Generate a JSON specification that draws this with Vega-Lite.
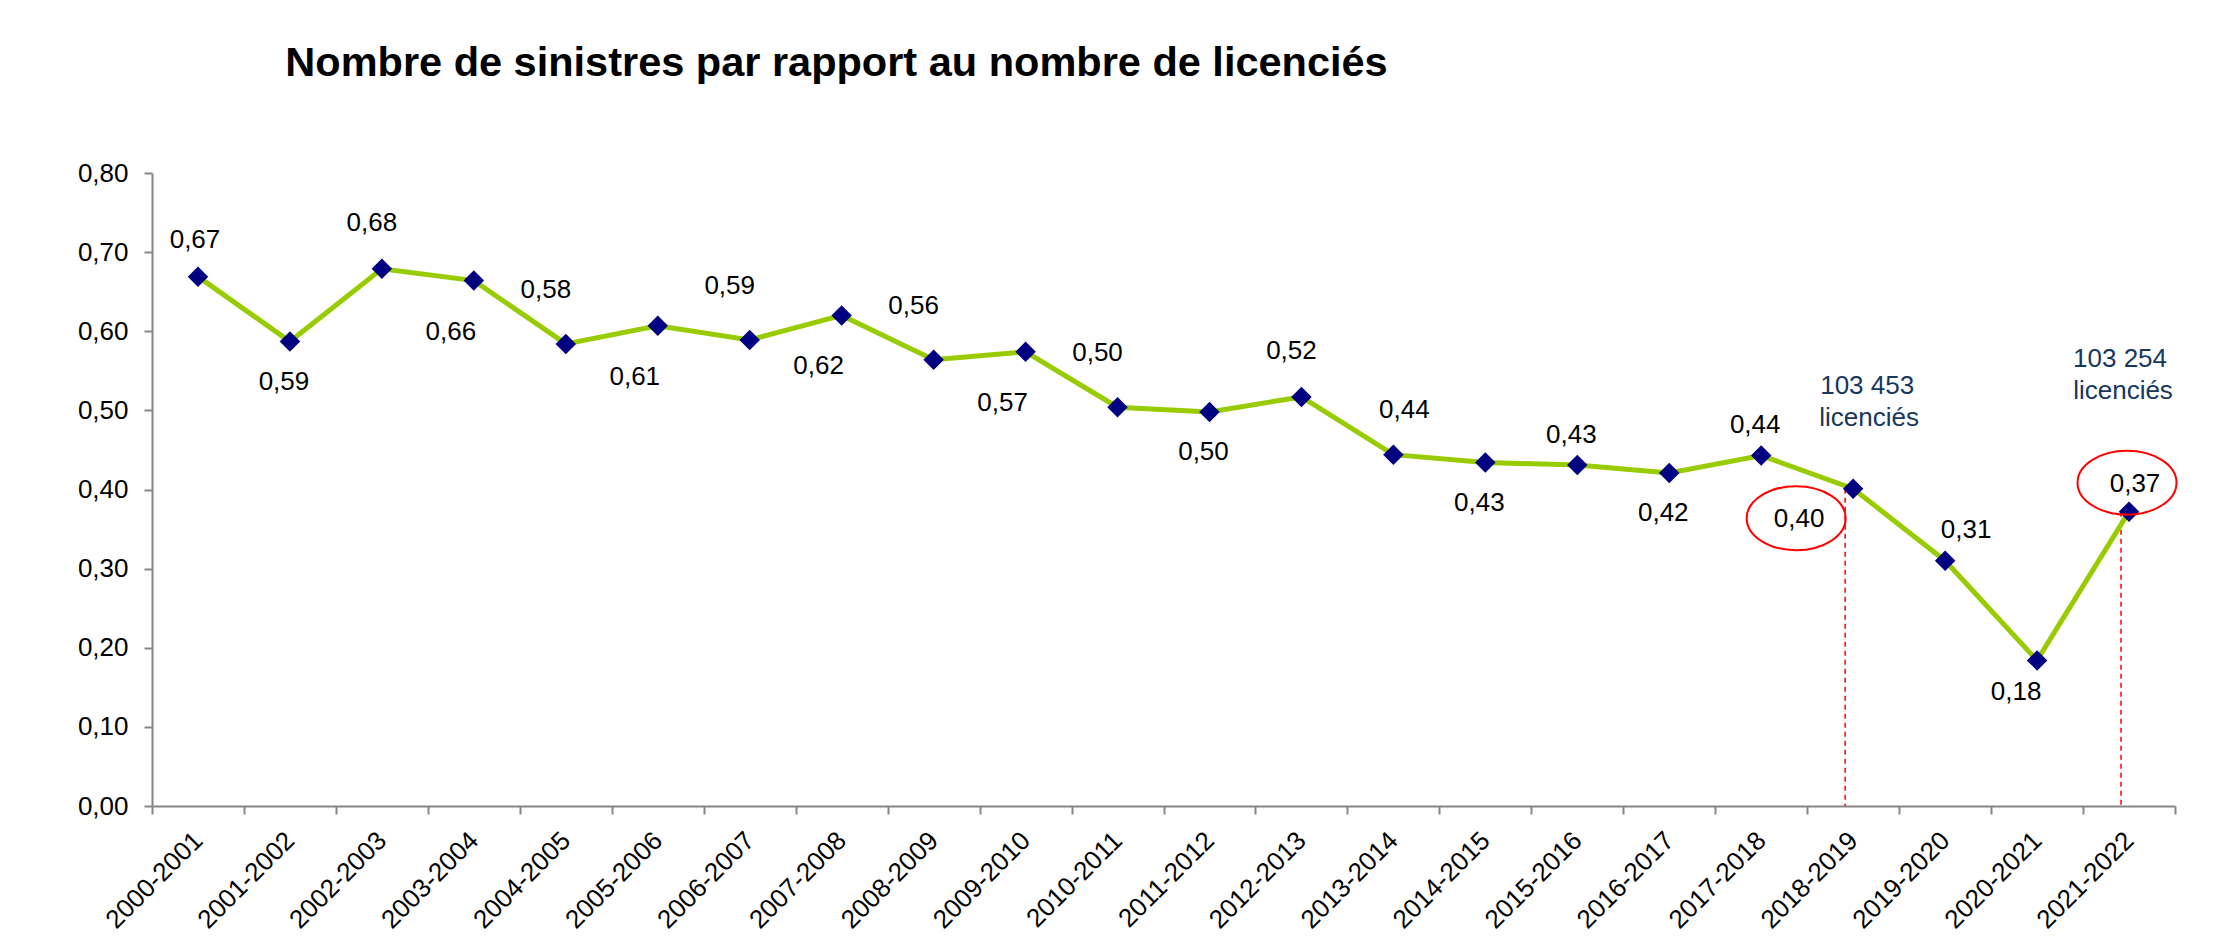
{
  "$schema": "https://vega.github.io/schema/vega-lite/v6.json",
  "width": 2023,
  "height": 633,
  "autosize": {"type": "none"},
  "padding": {"left": 152, "top": 173, "right": 45, "bottom": 138},
  "background": "white",
  "title": {
    "text": "Nombre de sinistres par rapport au nombre de licenciés",
    "font": "Liberation Sans",
    "fontSize": 41.5,
    "fontWeight": "bold",
    "color": "black",
    "anchor": "middle",
    "dx": -327,
    "offset": 76
  },
  "config": {
    "locale": {
      "number": {"decimal": ",", "thousands": " ", "grouping": [3], "currency": ["", " €"]}
    },
    "view": {"stroke": null},
    "text": {"font": "Liberation Sans", "fontSize": 26},
    "axis": {
      "grid": false,
      "title": null,
      "labelFont": "Liberation Sans",
      "labelFontSize": 26,
      "labelColor": "black",
      "domainColor": "#868686",
      "domainWidth": 2,
      "tickColor": "#868686",
      "tickWidth": 2,
      "tickSize": 8
    }
  },
  "data": {
    "values": [
      {"saison": "2000-2001", "valeur": 0.669},
      {"saison": "2001-2002", "valeur": 0.587},
      {"saison": "2002-2003", "valeur": 0.679},
      {"saison": "2003-2004", "valeur": 0.664},
      {"saison": "2004-2005", "valeur": 0.584},
      {"saison": "2005-2006", "valeur": 0.607},
      {"saison": "2006-2007", "valeur": 0.589},
      {"saison": "2007-2008", "valeur": 0.62},
      {"saison": "2008-2009", "valeur": 0.564},
      {"saison": "2009-2010", "valeur": 0.574},
      {"saison": "2010-2011", "valeur": 0.504},
      {"saison": "2011-2012", "valeur": 0.498},
      {"saison": "2012-2013", "valeur": 0.517},
      {"saison": "2013-2014", "valeur": 0.444},
      {"saison": "2014-2015", "valeur": 0.434},
      {"saison": "2015-2016", "valeur": 0.431},
      {"saison": "2016-2017", "valeur": 0.421},
      {"saison": "2017-2018", "valeur": 0.443},
      {"saison": "2018-2019", "valeur": 0.401, "licencies": 103453},
      {"saison": "2019-2020", "valeur": 0.31},
      {"saison": "2020-2021", "valeur": 0.184},
      {"saison": "2021-2022", "valeur": 0.372, "licencies": 103254}
    ]
  },
  "encoding": {
    "x": {
      "field": "saison",
      "type": "ordinal",
      "sort": null,
      "bandPosition": 0.5,
      "scale": {
        "type": "band",
        "paddingInner": 0,
        "paddingOuter": 0,
        "domain": ["2000-2001", "2001-2002", "2002-2003", "2003-2004", "2004-2005", "2005-2006", "2006-2007", "2007-2008", "2008-2009", "2009-2010", "2010-2011", "2011-2012", "2012-2013", "2013-2014", "2014-2015", "2015-2016", "2016-2017", "2017-2018", "2018-2019", "2019-2020", "2020-2021", "2021-2022"]
      },
      "axis": {
        "labelAngle": -45,
        "labelAlign": "right",
        "labelBaseline": "middle",
        "labelPadding": 22,
        "labelOverlap": false,
        "tickBand": "extent"
      }
    },
    "y": {
      "field": "valeur",
      "type": "quantitative",
      "scale": {"domain": [0, 0.8], "nice": false, "zero": true},
      "axis": {
        "values": [0, 0.1, 0.2, 0.3, 0.4, 0.5, 0.6, 0.7, 0.8],
        "format": ".2f",
        "labelPadding": 16,
        "labelBound": false
      }
    }
  },
  "layer": [
    {
      "transform": [{"filter": {"field": "saison", "oneOf": ["2018-2019", "2021-2022"]}}],
      "mark": {"type": "rule", "color": "#ff0000", "strokeDash": [5, 4], "strokeWidth": 1.5, "xOffset": -8},
      "encoding": {"y2": {"datum": 0}}
    },
    {
      "mark": {"type": "line", "color": "#99cc00", "strokeWidth": 5},
      "encoding": {}
    },
    {
      "mark": {"type": "point", "shape": "diamond", "filled": true, "color": "#000080", "size": 420, "opacity": 1},
      "encoding": {}
    },
    {
      "transform": [{"filter": {"field": "saison", "oneOf": ["2000-2001"]}}],
      "mark": {"type": "text", "color": "black", "baseline": "middle", "align": "center", "dx": -3, "dy": -37},
      "encoding": {"text": {"field": "valeur", "type": "quantitative", "format": ".2f"}}
    },
    {
      "transform": [{"filter": {"field": "saison", "oneOf": ["2002-2003", "2012-2013"]}}],
      "mark": {"type": "text", "color": "black", "baseline": "middle", "align": "center", "dx": -10, "dy": -46},
      "encoding": {"text": {"field": "valeur", "type": "quantitative", "format": ".2f"}}
    },
    {
      "transform": [{"filter": {"field": "saison", "oneOf": ["2004-2005", "2006-2007", "2008-2009", "2010-2011"]}}],
      "mark": {"type": "text", "color": "black", "baseline": "middle", "align": "center", "dx": -20, "dy": -54},
      "encoding": {"text": {"field": "valeur", "type": "quantitative", "format": ".2f"}}
    },
    {
      "transform": [{"filter": {"field": "saison", "oneOf": ["2013-2014"]}}],
      "mark": {"type": "text", "color": "black", "baseline": "middle", "align": "center", "dx": 11, "dy": -45},
      "encoding": {"text": {"field": "valeur", "type": "quantitative", "format": ".2f"}}
    },
    {
      "transform": [{"filter": {"field": "saison", "oneOf": ["2015-2016", "2017-2018"]}}],
      "mark": {"type": "text", "color": "black", "baseline": "middle", "align": "center", "dx": -6, "dy": -30},
      "encoding": {"text": {"field": "valeur", "type": "quantitative", "format": ".2f"}}
    },
    {
      "transform": [{"filter": {"field": "saison", "oneOf": ["2021-2022"]}}],
      "mark": {"type": "text", "color": "black", "baseline": "middle", "align": "center", "dx": 6, "dy": -28},
      "encoding": {"text": {"field": "valeur", "type": "quantitative", "format": ".2f"}}
    },
    {
      "transform": [{"filter": {"field": "saison", "oneOf": ["2019-2020"]}}],
      "mark": {"type": "text", "color": "black", "baseline": "middle", "align": "center", "dx": 21, "dy": -31},
      "encoding": {"text": {"field": "valeur", "type": "quantitative", "format": ".2f"}}
    },
    {
      "transform": [{"filter": {"field": "saison", "oneOf": ["2001-2002", "2011-2012", "2014-2015", "2016-2017"]}}],
      "mark": {"type": "text", "color": "black", "baseline": "middle", "align": "center", "dx": -6, "dy": 40},
      "encoding": {"text": {"field": "valeur", "type": "quantitative", "format": ".2f"}}
    },
    {
      "transform": [{"filter": {"field": "saison", "oneOf": ["2003-2004", "2005-2006", "2007-2008", "2009-2010"]}}],
      "mark": {"type": "text", "color": "black", "baseline": "middle", "align": "center", "dx": -23, "dy": 51},
      "encoding": {"text": {"field": "valeur", "type": "quantitative", "format": ".2f"}}
    },
    {
      "transform": [{"filter": {"field": "saison", "oneOf": ["2020-2021"]}}],
      "mark": {"type": "text", "color": "black", "baseline": "middle", "align": "center", "dx": -21, "dy": 32},
      "encoding": {"text": {"field": "valeur", "type": "quantitative", "format": ".2f"}}
    },
    {
      "transform": [{"filter": {"field": "saison", "oneOf": ["2018-2019"]}}],
      "mark": {"type": "text", "color": "black", "baseline": "middle", "align": "center", "dx": -54, "dy": 30},
      "encoding": {"text": {"field": "valeur", "type": "quantitative", "format": ".2f"}}
    },
    {
      "transform": [{"filter": {"field": "saison", "oneOf": ["2018-2019"]}}],
      "mark": {"type": "point", "shape": "M -1 0 C -1 -0.357 -0.552 -0.646 0 -0.646 C 0.552 -0.646 1 -0.357 1 0 C 1 0.357 0.552 0.646 0 0.646 C -0.552 0.646 -1 0.357 -1 0 Z", "size": 9801, "filled": false, "color": "#ff0000", "strokeWidth": 2, "opacity": 1, "xOffset": -57, "yOffset": 29.5},
      "encoding": {}
    },
    {
      "transform": [{"filter": {"field": "saison", "oneOf": ["2021-2022"]}}],
      "mark": {"type": "point", "shape": "M -1 0 C -1 -0.357 -0.552 -0.646 0 -0.646 C 0.552 -0.646 1 -0.357 1 0 C 1 0.357 0.552 0.646 0 0.646 C -0.552 0.646 -1 0.357 -1 0 Z", "size": 9801, "filled": false, "color": "#ff0000", "strokeWidth": 2, "opacity": 1, "xOffset": -2, "yOffset": -29},
      "encoding": {}
    },
    {
      "transform": [{"filter": {"field": "saison", "oneOf": ["2018-2019"]}}],
      "mark": {"type": "text", "color": "#17375e", "baseline": "middle", "align": "center", "dx": 14, "dy": -103},
      "encoding": {"text": {"field": "licencies", "type": "quantitative", "format": ",d"}}
    },
    {
      "transform": [{"filter": {"field": "saison", "oneOf": ["2018-2019"]}}],
      "mark": {"type": "text", "text": "licenciés", "color": "#17375e", "baseline": "middle", "align": "center", "dx": 16, "dy": -71},
      "encoding": {}
    },
    {
      "transform": [{"filter": {"field": "saison", "oneOf": ["2021-2022"]}}],
      "mark": {"type": "text", "color": "#17375e", "baseline": "middle", "align": "center", "dx": -9, "dy": -153},
      "encoding": {"text": {"field": "licencies", "type": "quantitative", "format": ",d"}}
    },
    {
      "transform": [{"filter": {"field": "saison", "oneOf": ["2021-2022"]}}],
      "mark": {"type": "text", "text": "licenciés", "color": "#17375e", "baseline": "middle", "align": "center", "dx": -6, "dy": -121},
      "encoding": {}
    }
  ]
}
